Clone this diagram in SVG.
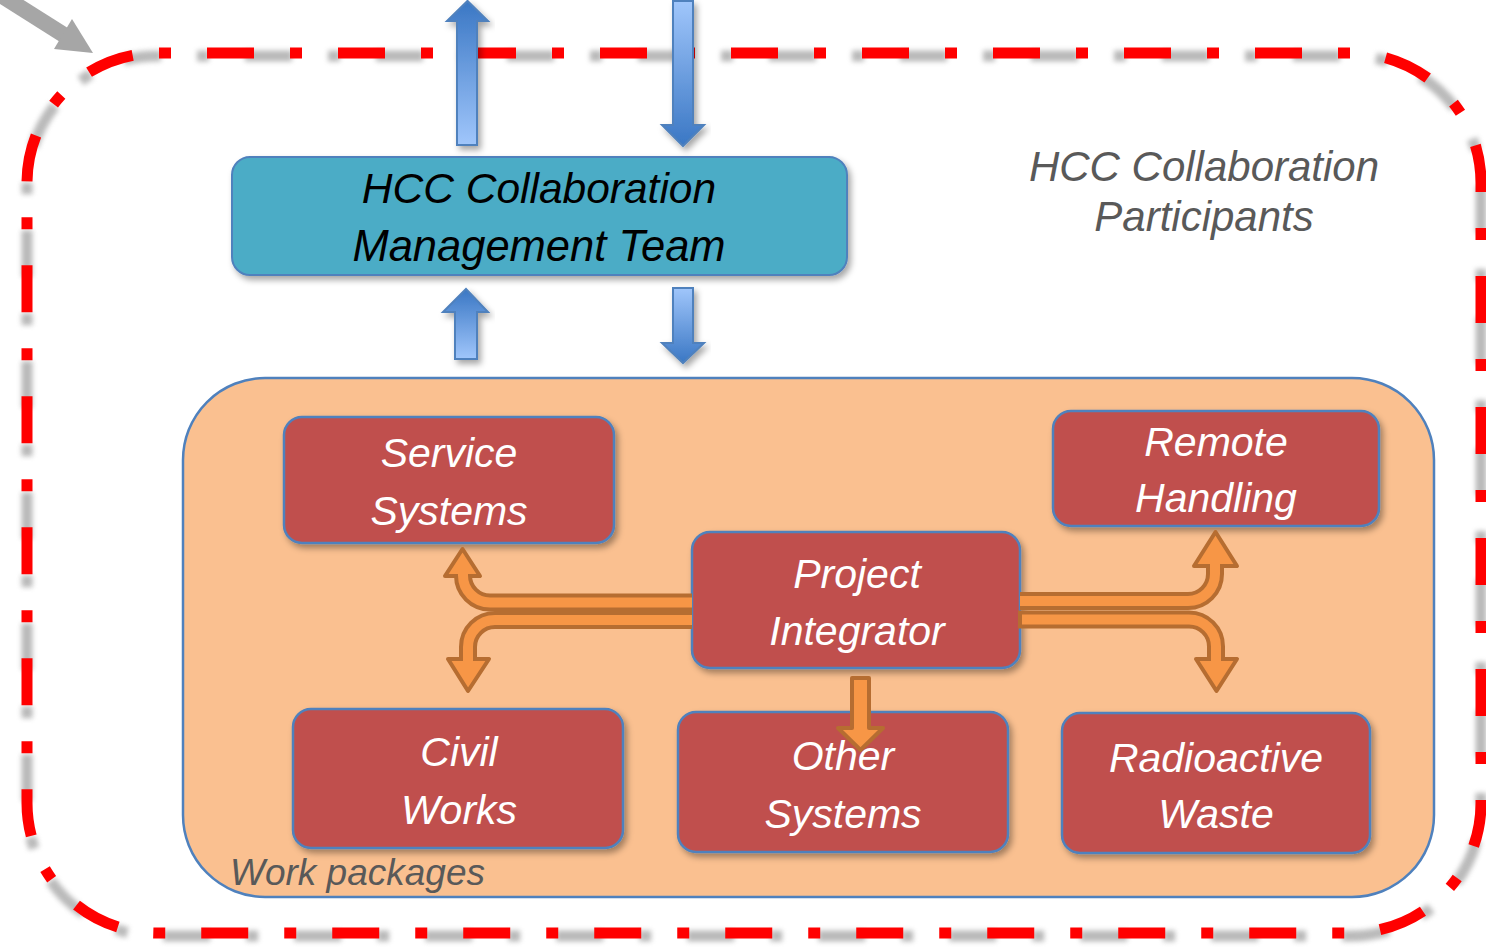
<svg xmlns="http://www.w3.org/2000/svg" width="1486" height="951" viewBox="0 0 1486 951">
<style>
.box{fill:#c0504d;stroke:#4f81bd;stroke-width:2.5;filter:url(#sh)}
.bt{font-family:"Liberation Sans",Arial,sans-serif;font-style:italic;font-size:41px;fill:#ffffff;text-anchor:middle}
.gt{font-family:"Liberation Sans",Arial,sans-serif;font-style:italic;fill:#595959}
.odark{fill:none;stroke:#b66d31;stroke-width:18}
.olight{fill:none;stroke:#f79646;stroke-width:10}
.ohead{fill:#f79646;stroke:#b66d31;stroke-width:4;stroke-linejoin:round}
.frame{fill:none;stroke-width:11;stroke-dasharray:47 36 12 36}
</style>
<defs>
<filter id="sh" x="-10%" y="-10%" width="125%" height="130%">
<feDropShadow dx="3" dy="4" stdDeviation="3" flood-color="#000" flood-opacity="0.35"/>
</filter>
<filter id="blur" x="-5%" y="-5%" width="110%" height="110%">
<feGaussianBlur stdDeviation="2.5"/>
</filter>
<linearGradient id="gUp" x1="0" y1="0" x2="0" y2="1">
<stop offset="0" stop-color="#3a77c4"/>
<stop offset="1" stop-color="#a0c6fb"/>
</linearGradient>
<linearGradient id="gDown" x1="0" y1="0" x2="0" y2="1">
<stop offset="0" stop-color="#a0c6fb"/>
<stop offset="1" stop-color="#3a77c4"/>
</linearGradient>
</defs>
<rect width="1486" height="951" fill="#ffffff"/>

<g id="participants-frame">
<path class="frame" stroke="#8c8c8c" opacity="0.6" stroke-dashoffset="43" transform="translate(0,3)" filter="url(#blur)" d="M157,53 H1351 A130,130 0 0 1 1481,183 V803 A130,130 0 0 1 1351,933 H157 A130,130 0 0 1 27,803 V183 A130,130 0 0 1 157,53 Z"/>
<path class="frame" stroke="#ff0000" stroke-dashoffset="81" d="M157,53 H1351 A130,130 0 0 1 1481,183 V803 A130,130 0 0 1 1351,933 H157 A130,130 0 0 1 27,803 V183 A130,130 0 0 1 157,53 Z"/>
<text class="gt" font-size="42" text-anchor="middle"><tspan x="1204" y="181">HCC Collaboration</tspan><tspan x="1204" y="231">Participants</tspan></text>
</g>

<g id="pointer-arrow">
<line x1="-20" y1="-18" x2="64" y2="35" stroke="#a6a6a6" stroke-width="16"/>
<polygon points="72,19 93,53 54,49" fill="#a6a6a6"/>
</g>

<g id="work-packages">
<rect x="183" y="378" width="1251" height="519" rx="82" fill="#fac090" stroke="#4f81bd" stroke-width="2.5"/>
<text class="gt" x="230" y="885" font-size="37">Work packages</text>
</g>

<g id="management-team">
<rect x="232" y="157" width="615" height="118" rx="18" fill="#4bacc6" stroke="#4f81bd" stroke-width="2" filter="url(#sh)"/>
<text font-family="Liberation Sans, Arial, sans-serif" font-style="italic" font-size="42.5" fill="#000" text-anchor="middle"><tspan x="539" y="203">HCC Collaboration</tspan><tspan x="539" y="261" font-size="43.5">Management Team</tspan></text>
</g>

<g id="service-systems">
<rect class="box" x="284" y="417" width="330" height="126" rx="18"/>
<text class="bt"><tspan x="449" y="467">Service</tspan><tspan x="449" y="525">Systems</tspan></text>
</g>

<g id="remote-handling">
<rect class="box" x="1053" y="411" width="326" height="115" rx="18"/>
<text class="bt"><tspan x="1216" y="456">Remote</tspan><tspan x="1216" y="512">Handling</tspan></text>
</g>

<g id="project-integrator">
<rect class="box" x="692" y="532" width="328" height="136" rx="18"/>
<text class="bt"><tspan x="857" y="588">Project</tspan><tspan x="857" y="645">Integrator</tspan></text>
</g>

<g id="civil-works">
<rect class="box" x="293" y="709" width="330" height="139" rx="18"/>
<text class="bt"><tspan x="459" y="766">Civil</tspan><tspan x="459" y="824">Works</tspan></text>
</g>

<g id="other-systems">
<rect class="box" x="678" y="712" width="330" height="140" rx="18"/>
<text class="bt"><tspan x="843" y="770">Other</tspan><tspan x="843" y="828">Systems</tspan></text>
</g>

<g id="radioactive-waste">
<rect class="box" x="1062" y="713" width="308" height="140" rx="18"/>
<text class="bt"><tspan x="1216" y="772">Radioactive</tspan><tspan x="1216" y="828">Waste</tspan></text>
</g>

<g id="connectors">
<polygon points="457,145 477,145 477,21 488,21 467.5,1 447,21 457,21" fill="url(#gUp)" stroke="#4f81bd" stroke-width="2" filter="url(#sh)"/>
<polygon points="673,1 693,1 693,125 704,125 683,146 662,125 673,125" fill="url(#gDown)" stroke="#4f81bd" stroke-width="2" filter="url(#sh)"/>
<polygon points="455,359 477,359 477,312 488,312 466,289 443,312 455,312" fill="url(#gUp)" stroke="#4f81bd" stroke-width="2" filter="url(#sh)"/>
<polygon points="673,288 693,288 693,343 704,343 683,363 662,343 673,343" fill="url(#gDown)" stroke="#4f81bd" stroke-width="2" filter="url(#sh)"/>

<path class="odark" d="M692,602.5 H490 A27,27 0 0 1 463,575.5 V572"/>
<path class="odark" d="M692,620 H495 A27,27 0 0 0 468,647 V662"/>
<polygon class="ohead" points="445,576 462.5,549 480,576"/>
<polygon class="ohead" points="448,659 468,691 489,659"/>
<path class="olight" d="M692,602.5 H490 A27,27 0 0 1 463,575.5 V570"/>
<path class="olight" d="M692,620 H495 A27,27 0 0 0 468,647 V664"/>

<path class="odark" d="M1020,601 H1188 A27,27 0 0 0 1215,574 V562"/>
<path class="odark" d="M1018,619.5 H1189 A27,27 0 0 1 1216,646.5 V662"/>
<polygon class="ohead" points="1194,566 1215.5,532 1237,566"/>
<polygon class="ohead" points="1196,659 1216.5,691 1237,659"/>
<path class="olight" d="M1020,601 H1188 A27,27 0 0 0 1215,574 V560"/>
<path class="olight" d="M1022,619.5 H1189 A27,27 0 0 1 1216,646.5 V664"/>

<polygon class="ohead" points="852,678 869,678 869,728 883,728 860.5,750 838,728 852,728"/>
</g>
</svg>
